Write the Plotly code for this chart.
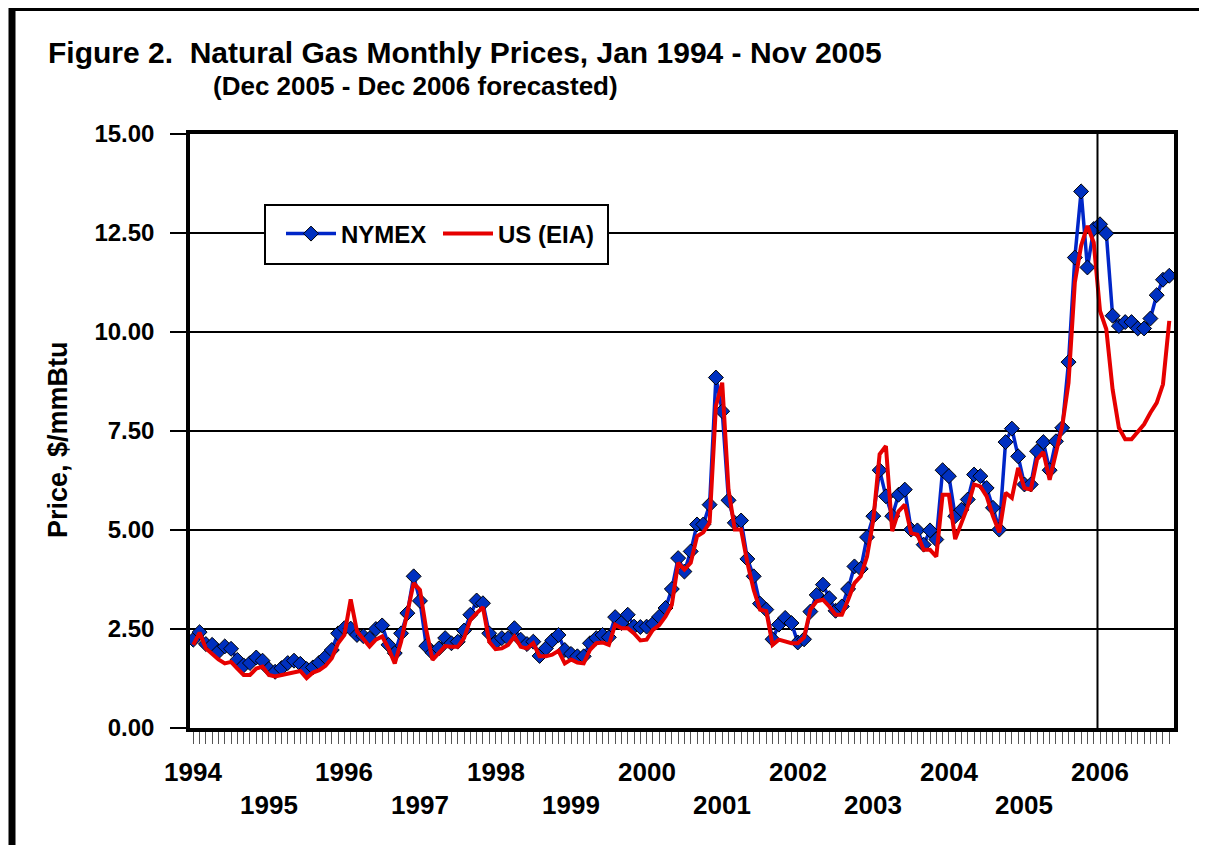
import plotly.graph_objects as go

# ---------------- data ----------------
years = list(range(1994, 2007))
months = [f"{y}-{m:02d}" for y in years for m in range(1, 13)]

nymex = [
    2.23, 2.42, 2.12, 2.10, 1.93, 2.06, 2.00, 1.72, 1.58, 1.64, 1.78, 1.70,   # 1994
    1.49, 1.42, 1.51, 1.64, 1.70, 1.62, 1.49, 1.53, 1.65, 1.79, 1.97, 2.39,   # 1995
    2.52, 2.51, 2.35, 2.32, 2.26, 2.50, 2.59, 2.10, 1.89, 2.39, 2.90, 3.83,   # 1996
    3.21, 2.07, 1.90, 2.01, 2.27, 2.14, 2.18, 2.46, 2.86, 3.22, 3.15, 2.39,   # 1997
    2.16, 2.27, 2.27, 2.52, 2.23, 2.12, 2.18, 1.82, 2.01, 2.21, 2.35, 1.97,   # 1998
    1.87, 1.81, 1.81, 2.14, 2.27, 2.35, 2.29, 2.80, 2.65, 2.86, 2.56, 2.55,   # 1999
    2.56, 2.63, 2.81, 3.03, 3.51, 4.29, 3.95, 4.46, 5.14, 5.14, 5.64, 8.85,   # 2000
    8.00, 5.75, 5.18, 5.24, 4.27, 3.83, 3.14, 2.99, 2.24, 2.61, 2.78, 2.65,   # 2001
    2.16, 2.24, 2.94, 3.36, 3.62, 3.28, 2.96, 3.07, 3.51, 4.08, 4.02, 4.82,   # 2002
    5.35, 6.51, 5.85, 5.35, 5.89, 6.02, 5.01, 4.99, 4.63, 4.99, 4.76, 6.51,   # 2003
    6.36, 5.35, 5.51, 5.77, 6.40, 6.36, 6.06, 5.56, 5.01, 7.22, 7.56, 6.86,   # 2004
    6.15, 6.15, 6.99, 7.22, 6.51, 7.24, 7.58, 9.24, 11.88, 13.55, 11.63, 12.60,  # 2005
    12.72, 12.49, 10.41, 10.15, 10.25, 10.25, 10.09, 10.09, 10.34, 10.93, 11.32, 11.42,  # 2006
]

us_eia = [
    2.10, 2.41, 2.01, 1.86, 1.73, 1.63, 1.67, 1.50, 1.34, 1.34, 1.50, 1.55,   # 1994
    1.34, 1.30, 1.34, 1.38, 1.42, 1.44, 1.26, 1.40, 1.46, 1.57, 1.76, 2.14,   # 1995
    2.35, 3.25, 2.44, 2.23, 2.06, 2.23, 2.31, 2.01, 1.63, 2.18, 2.90, 3.66,   # 1996
    3.49, 2.48, 1.72, 1.89, 2.07, 2.05, 2.05, 2.27, 2.73, 2.90, 3.05, 2.18,   # 1997
    1.99, 2.01, 2.10, 2.31, 2.05, 2.01, 2.14, 1.81, 1.81, 1.85, 1.95, 1.63,   # 1998
    1.73, 1.65, 1.63, 1.97, 2.14, 2.16, 2.10, 2.61, 2.52, 2.52, 2.39, 2.21,   # 1999
    2.23, 2.48, 2.60, 2.82, 3.11, 4.17, 4.00, 4.17, 4.84, 4.94, 5.19, 8.13,   # 2000
    8.72, 6.02, 5.01, 5.01, 4.17, 3.49, 2.99, 2.95, 2.10, 2.23, 2.18, 2.14,   # 2001
    2.14, 2.29, 2.99, 3.20, 3.24, 3.07, 2.86, 2.86, 3.24, 3.66, 3.83, 4.33,   # 2002
    5.26, 6.91, 7.12, 4.97, 5.47, 5.64, 4.92, 4.88, 4.50, 4.50, 4.33, 5.89,   # 2003
    5.89, 4.77, 5.18, 5.60, 6.15, 6.10, 5.85, 5.35, 4.94, 5.94, 5.81, 6.57,   # 2004
    6.06, 6.02, 6.78, 6.97, 6.27, 6.91, 7.62, 8.72, 11.25, 12.18, 12.68, 12.26,  # 2005
    10.53, 10.07, 8.55, 7.58, 7.29, 7.29, 7.50, 7.67, 7.96, 8.21, 8.68, 10.28,   # 2006
]

y_ticks = [0, 2.5, 5, 7.5, 10, 12.5, 15]
forecast_start = "2006-01"

title_text = "Figure 2.  Natural Gas Monthly Prices, Jan 1994 - Nov 2005"
subtitle_text = "(Dec 2005 - Dec 2006 forecasted)"
y_title = "Price, $/mmBtu"

# ---------------- figure ----------------
FONT = "Liberation Sans, Arial, Helvetica, sans-serif"
OFF = 8                      # browser body margin
W, H = 1199, 837
# plot area in page pixels: x 190..1174, y 134..728
L = 190 - OFF
T = 134 - OFF
R = W - (1174 - OFF)
B = H - (728 - OFF)
PW, PH = W - L - R, H - T - B


def px_x(px):
    return (px - OFF - L) / PW


def px_y(py):
    return (H - B - (py - OFF)) / PH


fig = go.Figure()

fig.add_trace(go.Scatter(
    x=months, y=nymex, name="NYMEX", mode="lines+markers",
    line=dict(color="#0026c8", width=3.5),
    marker=dict(symbol="diamond", size=11.5, color="#0030c0",
                line=dict(color="black", width=1)),
))
fig.add_trace(go.Scatter(
    x=months, y=us_eia, name="US (EIA)", mode="lines",
    line=dict(color="#e60000", width=4),
))

shapes = []
# forecast divider
fc_idx = months.index(forecast_start) - 0.4
shapes.append(dict(type="line", xref="x", yref="paper", x0=fc_idx, x1=fc_idx,
                   y0=0, y1=1, line=dict(color="black", width=2), layer="above"))
# legend box
shapes.append(dict(type="rect", xref="paper", yref="paper",
                   x0=px_x(265), x1=px_x(608), y0=px_y(264), y1=px_y(205),
                   fillcolor="white", line=dict(color="black", width=2), layer="above"))
# page frame
shapes.append(dict(type="line", xref="paper", yref="paper",
                   x0=px_x(9), x1=px_x(1201), y0=px_y(9), y1=px_y(9),
                   line=dict(color="black", width=4)))
shapes.append(dict(type="line", xref="paper", yref="paper",
                   x0=px_x(12), x1=px_x(12), y0=px_y(7), y1=px_y(870),
                   line=dict(color="black", width=7)))

annotations = [
    dict(text=title_text, xref="paper", yref="paper", x=px_x(46), y=px_y(52),
         xanchor="left", yanchor="middle", showarrow=False,
         font=dict(family=FONT, size=30, color="black", weight="bold")),
    dict(text=subtitle_text, xref="paper", yref="paper", x=px_x(211), y=px_y(86),
         xanchor="left", yanchor="middle", showarrow=False,
         font=dict(family=FONT, size=26, color="black", weight="bold")),
    dict(text=y_title, xref="paper", yref="paper", x=px_x(58), y=px_y(440),
         xanchor="center", yanchor="middle", showarrow=False, textangle=-90,
         font=dict(family=FONT, size=27, color="black", weight="bold")),
]
for k, yr in enumerate(years):
    row_y = 772 if k % 2 == 0 else 805
    annotations.append(dict(
        text=str(yr), xref="x", yref="paper", x=f"{yr}-01", y=px_y(row_y),
        xanchor="center", yanchor="middle", showarrow=False,
        font=dict(family=FONT, size=26, color="black", weight="bold")))

fig.update_layout(
    width=W, height=H,
    margin=dict(l=L, r=R, t=T, b=B, autoexpand=False),
    paper_bgcolor="white", plot_bgcolor="white",
    font=dict(family=FONT, color="black", size=24, weight="bold"),
    showlegend=True,
    legend=dict(orientation="h", x=px_x(281), y=px_y(234), xanchor="left", yanchor="middle",
                bgcolor="rgba(0,0,0,0)", borderwidth=0,
                font=dict(family=FONT, size=24, color="black", weight="bold"),
                itemwidth=50, entrywidth=92),
    shapes=shapes,
    annotations=annotations,
)

fig.update_xaxes(
    type="category", categoryorder="array", categoryarray=months,
    range=[-0.52, 155.75], showticklabels=False,
    tickmode="linear", tick0=0, dtick=1,
    ticks="outside", ticklen=12, tickwidth=1.2, tickcolor="#555",
    showgrid=False, zeroline=False,
    showline=True, linecolor="black", linewidth=3.5, mirror=True,
)
fig.update_yaxes(
    range=[0, 15], tickvals=y_ticks, tickformat=".2f",
    ticks="outside", ticklen=16, tickwidth=2, tickcolor="black",
    ticklabelstandoff=11,
    tickfont=dict(family=FONT, size=24, color="black", weight="bold"),
    showgrid=True, gridcolor="black", gridwidth=2, zeroline=False,
    showline=True, linecolor="black", linewidth=3.5, mirror=True,
)

fig.write_html("out.html")
